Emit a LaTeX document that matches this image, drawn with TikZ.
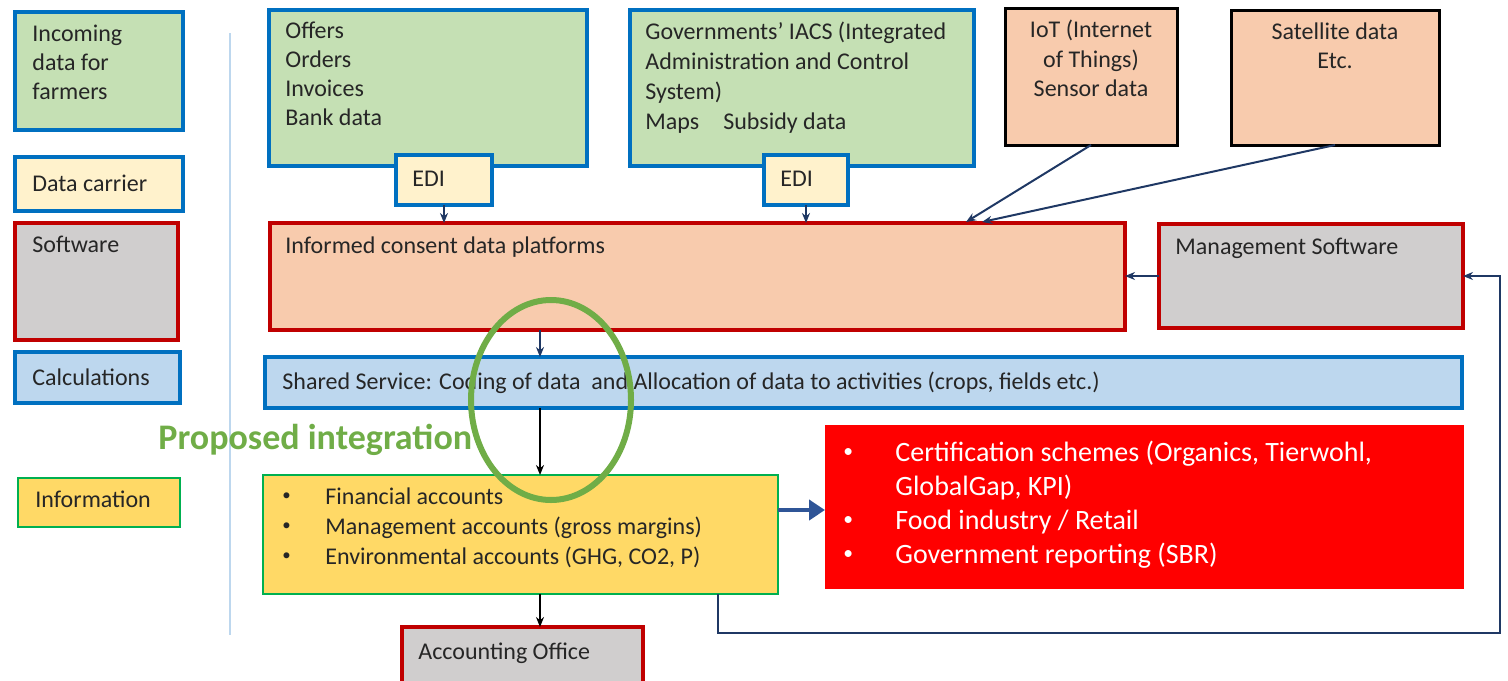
\documentclass[tikz,border=0pt]{standalone}
\usepackage{fontspec}
\setmainfont{Carlito}
\usetikzlibrary{arrows.meta,calc}
\definecolor{cgreen}{HTML}{C5E0B4}
\definecolor{cblue}{HTML}{0070C0}
\definecolor{ccream}{HTML}{FFF2CC}
\definecolor{cgray}{HTML}{D0CECE}
\definecolor{cdred}{HTML}{C00000}
\definecolor{clblue}{HTML}{BDD7EE}
\definecolor{cyellow}{HTML}{FFD966}
\definecolor{cgborder}{HTML}{00B050}
\definecolor{corange}{HTML}{F8CBAD}
\definecolor{cnavy}{HTML}{1F3864}
\definecolor{carrowblue}{HTML}{2F5597}
\definecolor{cellipse}{HTML}{70AD47}
\definecolor{ctext}{HTML}{262626}
\newcommand\bx[6]{\node[#2, anchor=north west, outer sep=0pt, inner sep=0pt, minimum width={(#5-#3)*0.5pt}, minimum height={(#6-#4)*0.5pt}] (#1) at (#3,#4) {};}
\newcommand\smbul[1]{\makebox[#1][l]{\raisebox{0.15em}{\scalebox{0.7}{•}}}}
\begin{document}
\begin{tikzpicture}[x=0.5pt,y=-0.5pt,
  greenbox/.style={draw=cblue, fill=cgreen, line width=2pt},
  carrierbox/.style={draw=cblue, fill=ccream, line width=2pt},
  softbox/.style={draw=cdred, fill=cgray, line width=1.6pt},
  platbox/.style={draw=cdred, fill=corange, line width=1.6pt},
  calcbox/.style={draw=cblue, fill=clblue, line width=1.6pt},
  infobox/.style={draw=cgborder, fill=cyellow, line width=1pt},
  srcbox/.style={draw=black, fill=corange, line width=1.5pt},
  redbox/.style={fill=red, draw=red},
  txt/.style={anchor=north west, inner sep=0pt, align=left, text=ctext, font=\fontsize{12}{14.5}\selectfont},
  ctxt/.style={anchor=north, inner sep=0pt, align=center, text=ctext, font=\fontsize{12}{14.75}\selectfont},
  wtxt/.style={anchor=north west, inner sep=0pt, align=left, text=white, font=\fontsize{14}{17}\selectfont},
  navyarrow/.style={draw=cnavy, line width=1pt, -{Stealth[length=5pt,width=4pt]}},
  blackarrow/.style={draw=black, line width=1pt, -{Stealth[length=5pt,width=4pt]}},
  bigarrow/.style={draw=carrowblue, line width=2.2pt, -{Triangle[length=8pt,width=10pt]}}
]
\useasboundingbox (0,0) rectangle (1508,680);
% legend
\bx{lgreen}{greenbox}{15}{12}{183}{130}
\node[txt] (tlgreen) at (32,25) {Incoming\\data for\\farmers};
\bx{lcarrier}{carrierbox}{15}{157}{183}{211}
\node[txt] (tlcarrier) at (32,175) {Data carrier};
\bx{lsoft}{softbox}{15}{223}{178}{340}
\node[txt] (tlsoft) at (32,236) {Software};
\bx{lcalc}{calcbox}{15}{352}{180}{403}
\node[txt] (tlcalc) at (32,368) {Calculations};
\bx{linfo}{infobox}{18}{478}{180}{527}
\node[txt] (tlinfo) at (35,490) {Information};
\draw[clblue, line width=0.6pt] (230,33) coordinate (vl1) -- (230,635) coordinate (vl2);
% top sources
\bx{offers}{greenbox}{269}{10}{587}{166}
\node[txt] (toffers) at (285,22) {Offers\\Orders\\Invoices\\Bank data};
\bx{edi1}{carrierbox}{396}{155}{492}{205}
\node[txt] (tedi1) at (412,171) {EDI};
\bx{gov}{greenbox}{630}{10}{974}{166}
\node[txt, font=\fontsize{12}{15}\selectfont] (tgov) at (645,22) {Governments’ IACS (Integrated\\Administration and Control\\System)\\Maps\quad Subsidy data};
\bx{edi2}{carrierbox}{764}{155}{848}{205}
\node[txt] (tedi2) at (780,171) {EDI};
\bx{iot}{srcbox}{1005}{8}{1177}{145}
\node[ctxt] (tiot) at (1091,20) {IoT (Internet\\of Things)\\Sensor data};
\bx{sat}{srcbox}{1231}{10}{1439}{145}
\node[ctxt] (tsat) at (1335,22) {Satellite data\\Etc.};
% platforms
\bx{consent}{platbox}{270}{223}{1125}{330}
\node[txt] (tconsent) at (285,236) {Informed consent data platforms};
\bx{mgmt}{softbox}{1159}{224}{1463}{328}
\node[txt] (tmgmt) at (1175,238) {Management Software};
\bx{shared}{calcbox}{265}{357}{1462}{408}
\node[txt] (tshared) at (282,372) {Shared Service: Coding of data\ \ and Allocation of data to activities (crops, fields etc.)};
% information
\bx{info}{infobox}{263}{475}{778}{594}
\node[txt, font=\fontsize{12}{15}\selectfont] (tinfo) at (282,487) {\smbul{21.5pt}Financial accounts\\\smbul{21.5pt}Management accounts (gross margins)\\\smbul{21.5pt}Environmental accounts (GHG, CO2, P)};
\bx{red}{redbox}{825}{425}{1463}{588}
\node[wtxt] (tred) at (843,441) {\smbul{26pt}Certification schemes (Organics, Tierwohl,\\\hspace*{26pt}GlobalGap, KPI)\\\smbul{26pt}Food industry / Retail\\\smbul{26pt}Government reporting (SBR)};
\bx{acc}{softbox}{402}{627}{643}{690}
\node[txt] (tacc) at (418,642) {Accounting Office};
% proposed integration
\node[anchor=west, inner sep=0pt, text=cellipse, font=\fontsize{18}{20}\bfseries] (prop) at (158,440) {Proposed integration};
\draw[cellipse, line width=3pt] (551,400) ellipse [x radius=80, y radius=100];
% connectors
\draw[navyarrow] (edi1.south) -- (edi1.south |- consent.north);
\draw[navyarrow] (edi2.south) -- (edi2.south |- consent.north);
\coordinate (iotend) at (966,222);
\coordinate (satend) at (982,222);
\draw[navyarrow] (iot.south) -- (iotend);
\draw[navyarrow] (sat.south) -- (satend);
\draw[navyarrow] (mgmt.west) -- (consent.east |- mgmt.west);
\coordinate (colx) at (540,0);
\draw[navyarrow] (consent.south -| colx) -- (shared.north -| colx);
\draw[blackarrow] (shared.south -| colx) -- (info.north -| colx);
\draw[blackarrow] (info.south -| colx) -- (acc.north -| colx);
\coordinate (arrowy) at (0,510);
\draw[bigarrow] (info.east |- arrowy) -- (red.west |- arrowy);
\coordinate (loopx) at (718,0);
\coordinate (loopcorner) at (1500,633);
\draw[navyarrow] (info.south -| loopx) |- (loopcorner) |- (mgmt.east);
\end{tikzpicture}
\end{document}
